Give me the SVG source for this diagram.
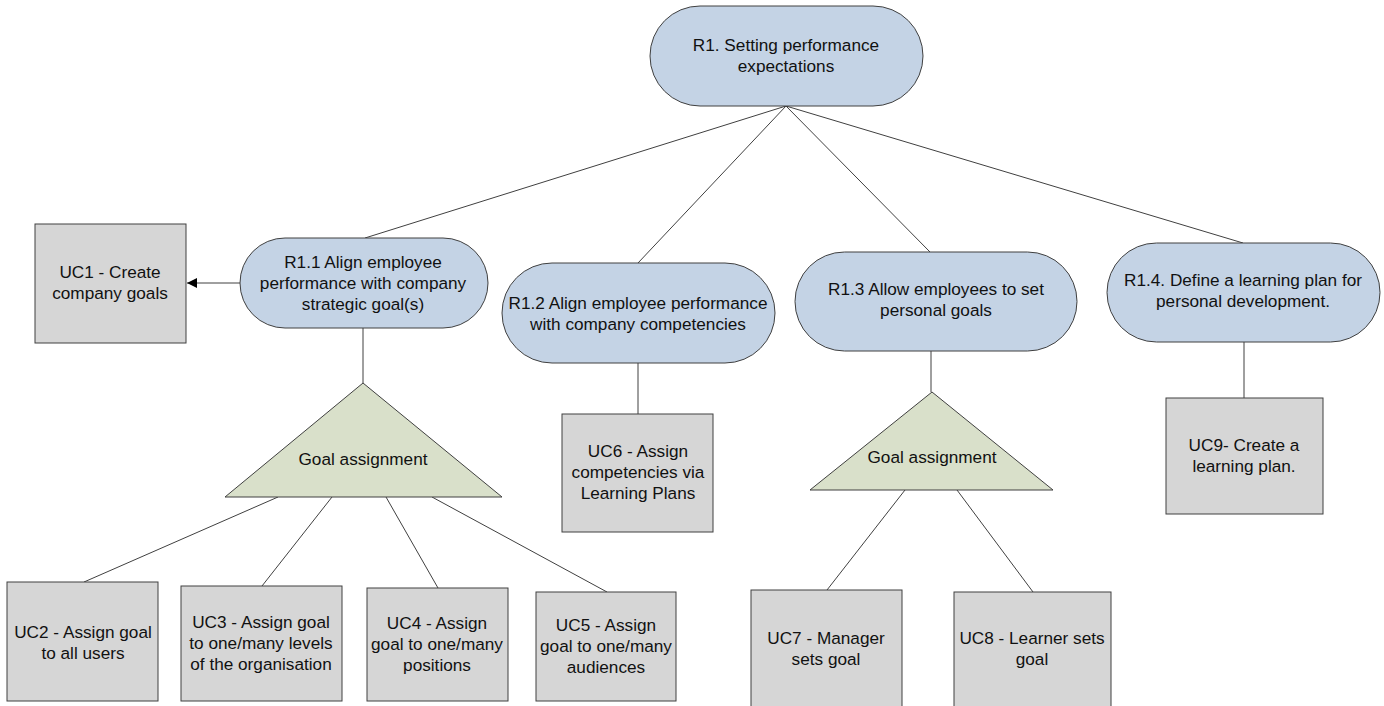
<svg xmlns="http://www.w3.org/2000/svg" width="1384" height="706" viewBox="0 0 1384 706">
<style>
.req{fill:#c4d3e5;stroke:#404040;stroke-width:1}
.uc{fill:#d6d6d6;stroke:#404040;stroke-width:1}
.tri{fill:#d9e0ca;stroke:#404040;stroke-width:1}
.ln{stroke:#404040;stroke-width:1;fill:none}
text{font-family:"Liberation Sans",Arial,sans-serif;font-size:17.2px;fill:#111;text-anchor:middle}
</style>
<defs>
<marker id="arr" viewBox="0 0 10 10" refX="10" refY="5" markerWidth="10" markerHeight="10" markerUnits="userSpaceOnUse" orient="auto">
<path d="M0,0 L10,5 L0,10 z" fill="#000"/>
</marker>
</defs>
<rect width="1384" height="706" fill="#fff"/>
<g id="connectors">
<line class="ln" x1="786" y1="106" x2="365" y2="238"/>
<line class="ln" x1="786" y1="106" x2="638" y2="263"/>
<line class="ln" x1="786" y1="106" x2="930" y2="252"/>
<line class="ln" x1="786" y1="106" x2="1243" y2="243"/>
<line class="ln" x1="240" y1="283" x2="187" y2="283" marker-end="url(#arr)"/>
<line class="ln" x1="363" y1="328" x2="363" y2="383"/>
<line class="ln" x1="278" y1="497" x2="84" y2="582"/>
<line class="ln" x1="332" y1="497" x2="262" y2="586"/>
<line class="ln" x1="386" y1="497" x2="438" y2="588"/>
<line class="ln" x1="432" y1="497" x2="607" y2="592"/>
<line class="ln" x1="638" y1="363" x2="638" y2="414"/>
<line class="ln" x1="931" y1="351" x2="931" y2="392"/>
<line class="ln" x1="905" y1="490" x2="827" y2="590"/>
<line class="ln" x1="957" y1="490" x2="1033" y2="592"/>
<line class="ln" x1="1244" y1="342" x2="1244" y2="398"/>
</g>
<g id="r1">
<rect class="req" x="650" y="6" width="273" height="100" rx="50" ry="50"/>
<text x="786" y="51">R1. Setting performance</text>
<text x="786" y="72">expectations</text>
</g>
<g id="r1_1">
<rect class="req" x="240" y="238" width="248" height="90" rx="45" ry="45"/>
<text x="363" y="268">R1.1 Align employee</text>
<text x="363" y="289">performance with company</text>
<text x="363" y="310">strategic goal(s)</text>
</g>
<g id="uc1">
<rect class="uc" x="35" y="224" width="151" height="119"/>
<text x="110" y="278">UC1 - Create</text>
<text x="110" y="299">company goals</text>
</g>
<g id="r1_2">
<rect class="req" x="502" y="263" width="273" height="100" rx="50" ry="50"/>
<text x="638" y="309">R1.2 Align employee performance</text>
<text x="638" y="330">with company competencies</text>
</g>
<g id="r1_3">
<rect class="req" x="795" y="252" width="282" height="99" rx="49.5" ry="49.5"/>
<text x="936" y="295">R1.3 Allow employees to set</text>
<text x="936" y="316">personal goals</text>
</g>
<g id="r1_4">
<rect class="req" x="1107" y="243" width="273" height="99" rx="49.5" ry="49.5"/>
<text x="1243" y="286">R1.4. Define a learning plan for</text>
<text x="1243" y="307">personal development.</text>
</g>
<g id="goal1">
<polygon class="tri" points="363,383 502,497 225,497"/>
<text x="363" y="465">Goal assignment</text>
</g>
<g id="goal2">
<polygon class="tri" points="932,392 1053,490 810,490"/>
<text x="932" y="463">Goal assignment</text>
</g>
<g id="uc2">
<rect class="uc" x="7" y="582" width="151" height="119"/>
<text x="83" y="638">UC2 - Assign goal</text>
<text x="83" y="659">to all users</text>
</g>
<g id="uc3">
<rect class="uc" x="181" y="586" width="161" height="115"/>
<text x="261" y="628">UC3 - Assign goal</text>
<text x="261" y="649">to one/many levels</text>
<text x="261" y="670">of the organisation</text>
</g>
<g id="uc4">
<rect class="uc" x="367" y="588" width="141" height="113"/>
<text x="437" y="629">UC4 - Assign</text>
<text x="437" y="650">goal to one/many</text>
<text x="437" y="671">positions</text>
</g>
<g id="uc5">
<rect class="uc" x="536" y="592" width="140" height="109"/>
<text x="606" y="631">UC5 - Assign</text>
<text x="606" y="652">goal to one/many</text>
<text x="606" y="673">audiences</text>
</g>
<g id="uc6">
<rect class="uc" x="562" y="414" width="151" height="118"/>
<text x="638" y="457">UC6 - Assign</text>
<text x="638" y="478">competencies via</text>
<text x="638" y="499">Learning Plans</text>
</g>
<g id="uc7">
<rect class="uc" x="751" y="590" width="151" height="130"/>
<text x="826" y="644">UC7 - Manager</text>
<text x="826" y="665">sets goal</text>
</g>
<g id="uc8">
<rect class="uc" x="954" y="592" width="157" height="130"/>
<text x="1032" y="644">UC8 - Learner sets</text>
<text x="1032" y="665">goal</text>
</g>
<g id="uc9">
<rect class="uc" x="1166" y="398" width="157" height="116"/>
<text x="1244" y="451">UC9- Create a</text>
<text x="1244" y="472">learning plan.</text>
</g>
</svg>
